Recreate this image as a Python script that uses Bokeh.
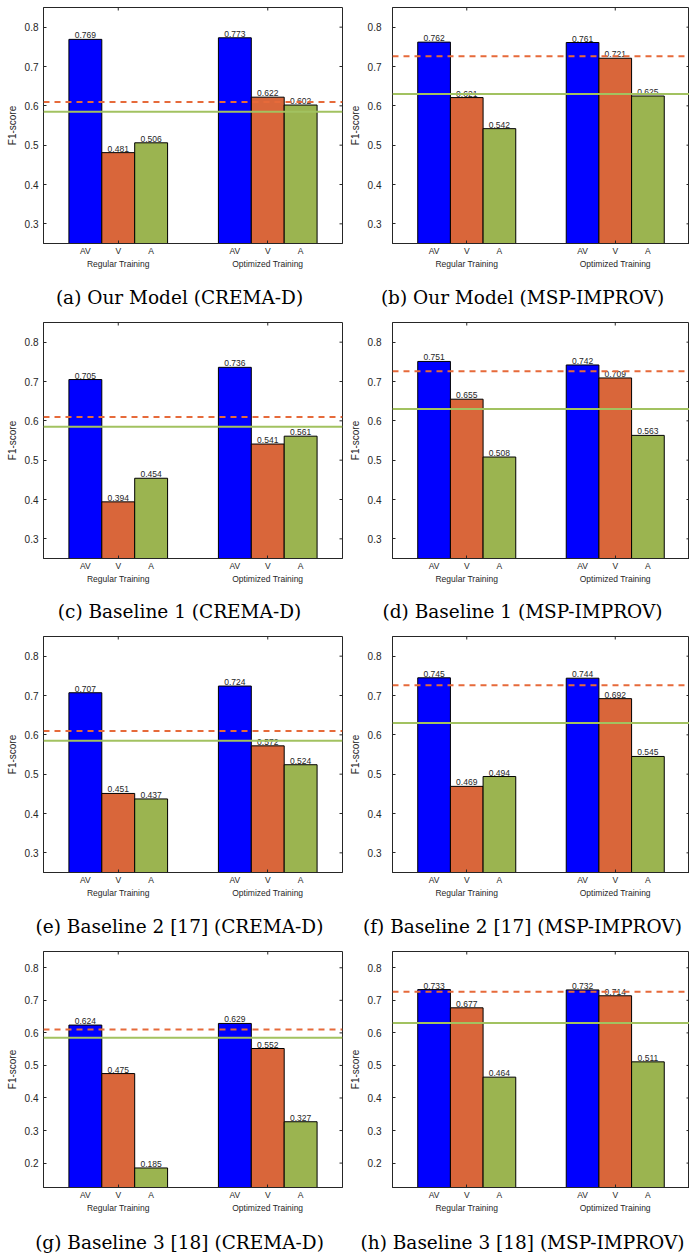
import math
from bokeh.plotting import figure
from bokeh.layouts import column, row
from bokeh.models import FixedTicker, Range1d, ColumnDataSource, Span, LinearAxis
from bokeh.core.properties import value
from bokeh.embed import file_html
from bokeh.resources import INLINE

# ---------------- data ----------------
modalities = ["AV", "V", "A"]
settings = ["Regular Training", "Optimized Training"]

captions = [
    "(a) Our Model (CREMA-D)", "(b) Our Model (MSP-IMPROV)",
    "(c) Baseline 1 (CREMA-D)", "(d) Baseline 1 (MSP-IMPROV)",
    "(e) Baseline 2 [17] (CREMA-D)", "(f) Baseline 2 [17] (MSP-IMPROV)",
    "(g) Baseline 3 [18] (CREMA-D)", "(h) Baseline 3 [18] (MSP-IMPROV)",
]

ours_crema_regular = [0.769, 0.481, 0.506]
ours_crema_optimized = [0.773, 0.622, 0.602]
ours_msp_regular = [0.762, 0.621, 0.542]
ours_msp_optimized = [0.761, 0.721, 0.625]
base1_crema_regular = [0.705, 0.394, 0.454]
base1_crema_optimized = [0.736, 0.541, 0.561]
base1_msp_regular = [0.751, 0.655, 0.508]
base1_msp_optimized = [0.742, 0.709, 0.563]
base2_crema_regular = [0.707, 0.451, 0.437]
base2_crema_optimized = [0.724, 0.572, 0.524]
base2_msp_regular = [0.745, 0.469, 0.494]
base2_msp_optimized = [0.744, 0.692, 0.545]
base3_crema_regular = [0.624, 0.475, 0.185]
base3_crema_optimized = [0.629, 0.552, 0.327]
base3_msp_regular = [0.733, 0.677, 0.464]
base3_msp_optimized = [0.732, 0.714, 0.511]

# unimodal reference levels (V dashed, A solid)
crema_ref_v = 0.61
crema_ref_a = 0.585
msp_ref_v = 0.726
msp_ref_a = 0.63

y_ticks_upper = [0.3, 0.4, 0.5, 0.6, 0.7, 0.8]
y_ticks_lower = [0.2, 0.3, 0.4, 0.5, 0.6, 0.7, 0.8]

# ---------------- style ----------------
BAR_COLORS = ["#0000FF", "#D9663A", "#9BB450"]
REF_V_COLOR = "#E66A3A"
REF_A_COLOR = "#A2C260"
AX = "#262626"
SANS = "Liberation Sans"
SERIF = "DejaVu Serif"
BAR_W = 0.22
X0, X1, Y1 = 0.5, 2.5, 0.85
FRAME_H = 236
TOP_B = 7
BOT_B = 30
CHART_H = TOP_B + FRAME_H + BOT_B


def col_geom(left_col):
    # width, min_border_left, min_border_right, caption centre, tick-label standoff
    return (344, 43, 2, 179, 5) if left_col else (345, 48, 0, 178, 11)


def make_panel(regular, optimized, ref_v, ref_a, y0, yticks, left_col):
    width, mbl, mbr, _, lab_standoff = col_geom(left_col)
    p = figure(width=width, height=CHART_H, output_backend="svg",
               toolbar_location=None, tools="",
               x_range=Range1d(X0, X1), y_range=Range1d(y0, Y1),
               min_border_left=mbl, min_border_right=mbr,
               min_border_top=TOP_B, min_border_bottom=BOT_B)
    p.xgrid.visible = False
    p.ygrid.visible = False
    p.outline_line_color = AX
    p.outline_line_width = 1
    p.background_fill_color = "white"
    p.border_fill_color = "white"

    xs, tops, cols, labels = [], [], [], []
    for g, vals in enumerate([regular, optimized]):
        for k, v in enumerate(vals):
            xs.append(g + 1 + (k - 1) * BAR_W)
            tops.append(v)
            cols.append(BAR_COLORS[k])
            labels.append(f"{v:.3f}")
    src = ColumnDataSource(dict(x=xs, top=tops, color=cols, label=labels))
    p.vbar(x="x", top="top", bottom=y0, width=BAR_W, source=src,
           fill_color="color", line_color="black", line_width=1)

    # inward ticks on top and right edges of the box
    p.ray(x=[1, 2], y=Y1, length=3, length_units="screen", angle=-math.pi / 2,
          line_color=AX, line_width=1)
    p.ray(x=X1, y=yticks, length=3, length_units="screen", angle=math.pi,
          line_color=AX, line_width=1)

    p.text(x="x", y="top", text="label", source=src, text_align="center",
           text_baseline="bottom", y_offset=-1, text_font_size="8.5px",
           text_color=AX, text_font=value(SANS))

    p.add_layout(Span(location=ref_v, dimension="width", line_color=REF_V_COLOR,
                      line_width=2, line_dash="6 5"))
    p.add_layout(Span(location=ref_a, dimension="width", line_color=REF_A_COLOR,
                      line_width=2))

    # bottom axis: modality labels
    xa = p.xaxis[0]
    xa.ticker = FixedTicker(ticks=xs, minor_ticks=[1, 2])
    xa.major_label_overrides = {x: modalities[i % 3] for i, x in enumerate(xs)}
    xa.major_tick_in = 0
    xa.major_tick_out = 0
    xa.minor_tick_in = 3
    xa.minor_tick_out = 0
    xa.minor_tick_line_color = AX
    xa.axis_line_color = AX
    xa.major_label_text_font = SANS
    xa.major_label_text_font_size = "8.5px"
    xa.major_label_text_color = AX
    xa.major_label_standoff = 2

    # second bottom axis: group labels
    ga = LinearAxis(ticker=FixedTicker(ticks=[1, 2]),
                    major_label_overrides={1: settings[0], 2: settings[1]})
    ga.axis_line_color = None
    ga.major_tick_line_color = None
    ga.minor_tick_line_color = None
    ga.major_tick_in = 0
    ga.major_tick_out = 0
    ga.minor_tick_in = 0
    ga.minor_tick_out = 0
    ga.major_label_text_font = SANS
    ga.major_label_text_font_size = "8.5px"
    ga.major_label_text_color = AX
    ga.major_label_standoff = 0
    p.add_layout(ga, "below")

    # left axis
    ya = p.yaxis[0]
    ya.ticker = FixedTicker(ticks=yticks)
    ya.major_tick_in = 3
    ya.major_tick_out = 0
    ya.minor_tick_line_color = None
    ya.minor_tick_out = 0
    ya.axis_line_color = AX
    ya.major_tick_line_color = AX
    ya.major_label_text_font = SANS
    ya.major_label_text_font_size = "10px"
    ya.major_label_text_color = AX
    ya.major_label_standoff = lab_standoff
    ya.axis_label = "F1-score"
    ya.axis_label_text_font = SANS
    ya.axis_label_text_font_size = "10px"
    ya.axis_label_text_font_style = "normal"
    ya.axis_label_text_color = AX
    ya.axis_label_standoff = 4
    return p


def make_caption(text, left_col, height, centre_y):
    width, _, _, cx, _ = col_geom(left_col)
    c = figure(width=width, height=height, output_backend="svg",
               toolbar_location=None, tools="",
               x_range=Range1d(0, width), y_range=Range1d(height, 0),
               min_border=0, x_axis_type=None, y_axis_type=None)
    c.xgrid.visible = False
    c.ygrid.visible = False
    c.outline_line_color = None
    c.text(x=[cx], y=[centre_y], text=[text], text_align="center",
           text_baseline="middle", text_font=value(SERIF),
           text_font_size="18.5px", text_color="black")
    return c


panels_data = [
    (ours_crema_regular, ours_crema_optimized), (ours_msp_regular, ours_msp_optimized),
    (base1_crema_regular, base1_crema_optimized), (base1_msp_regular, base1_msp_optimized),
    (base2_crema_regular, base2_crema_optimized), (base2_msp_regular, base2_msp_optimized),
    (base3_crema_regular, base3_crema_optimized), (base3_msp_regular, base3_msp_optimized),
]
row_heights = [315, 314, 315, 309]
caption_centres = [23.5, 23, 24, 25]

blocks = []
for r in range(4):
    figs, caps = [], []
    for c in range(2):
        i = 2 * r + c
        reg, opt = panels_data[i]
        crema = (c == 0)
        last = (r == 3)
        figs.append(make_panel(
            reg, opt,
            crema_ref_v if crema else msp_ref_v,
            crema_ref_a if crema else msp_ref_a,
            0.125 if last else 0.25,
            y_ticks_lower if last else y_ticks_upper,
            crema))
        caps.append(make_caption(captions[i], crema, row_heights[r] - CHART_H,
                                 caption_centres[r]))
    blocks.append(row(*figs, spacing=0))
    blocks.append(row(*caps, spacing=0))

layout = column(*blocks, spacing=0)
open("out.html", "w").write(file_html(layout, INLINE))
